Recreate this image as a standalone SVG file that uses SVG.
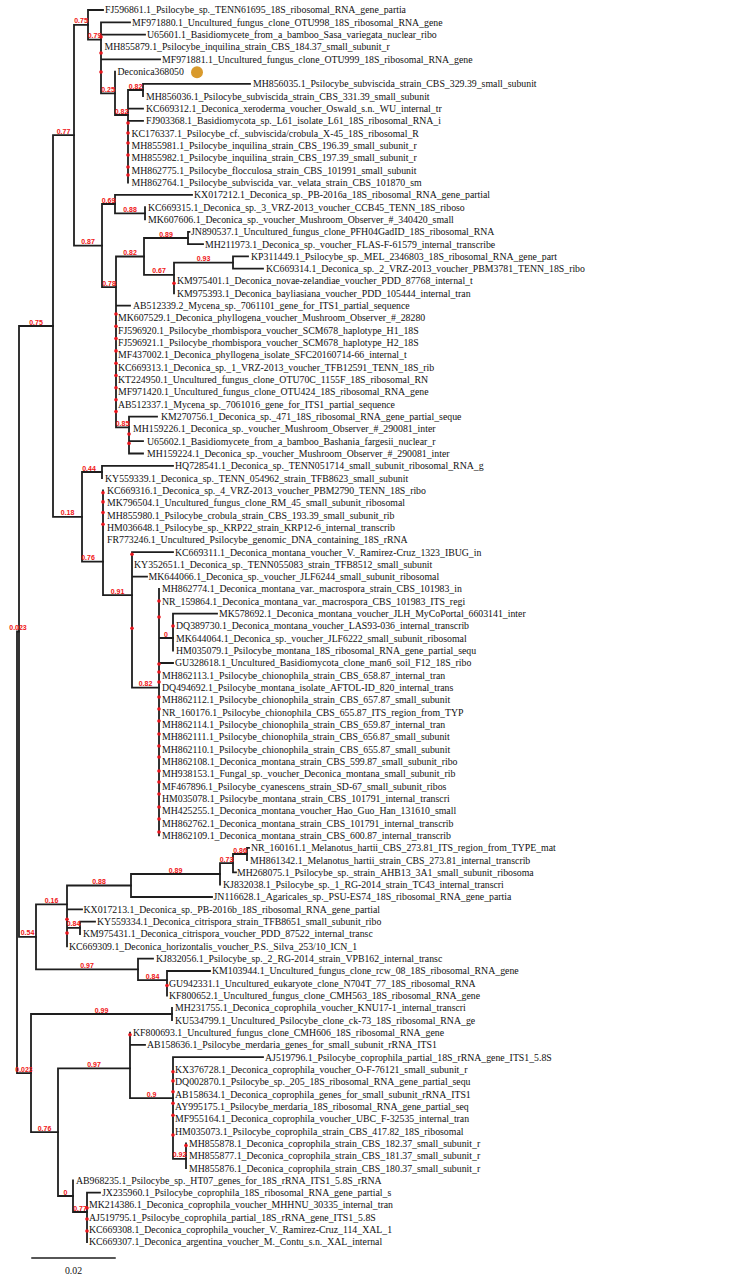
<svg xmlns="http://www.w3.org/2000/svg" width="732" height="1280" viewBox="0 0 732 1280">
<style>
.t{font-family:"Liberation Serif","Times New Roman",serif;font-size:9.8px;fill:#111}
.s{font-family:"Liberation Sans",Arial,sans-serif;font-weight:bold;font-size:7px;fill:#f01414;text-anchor:middle}
.e{stroke:#1e1e1e;stroke-width:1.8;fill:none;stroke-linecap:square}
.d{fill:#e8141c}
</style>
<rect width="732" height="1280" fill="#fff"/>
<g id="connectors" class="e">
<path d="M17 631.5V1073.1M17 631.5H19M17 1073.1H31"/>
<path d="M19 326V936.9M19 326H53M19 936.9H36"/>
<path d="M53 135.2V516.9M53 135.2H74M53 516.9H82"/>
<path d="M74 24.8V245.6M74 24.8H88M74 245.6H102"/>
<path d="M88 10V39.6M88 10H103M88 39.6H101"/>
<path d="M101 22.3V93.3M101 22.3H130M101 34.6H145M101 59.3H160M101 93.3H115"/>
<path d="M115 71.6V115M115 115H128"/>
<path d="M128 90V182.5M128 90H143M128 108.6H143M128 120.9H143"/>
<path d="M143 83.9V96.2M143 83.9H250"/>
<path d="M102 204V287.2M102 204H115M102 287.2H116"/>
<path d="M115 194.8V213.3M115 194.8H192M115 213.3H145"/>
<path d="M145 207.1V219.4"/>
<path d="M116 256.5V427.4M116 256.5H144M116 305.7H130M116 427.4H129"/>
<path d="M144 238V274.9M144 238H188M144 274.9H174"/>
<path d="M188 231.8V244.1M188 231.8H189.5M188 244.1H203"/>
<path d="M174 262.6V293.4M174 262.6H233"/>
<path d="M233 256.4V268.7M233 256.4H248M233 268.7H263"/>
<path d="M129 416.6V453.5M129 416.6H157M129 441.2H143M129 453.5H143"/>
<path d="M82 472V561.7M82 472H102M82 561.7H103"/>
<path d="M102 465.8V478.2M102 465.8H173"/>
<path d="M103 490.5V595.2M103 595.2H132"/>
<path d="M132 552.1V687.6M132 552.1H173M132 576.7H147M132 687.6H159"/>
<path d="M159 589V835.4M159 638H173M159 663H173"/>
<path d="M173 613.7V650.6M173 613.7H217"/>
<path d="M36 904.4V969.4M36 904.4H67M36 969.4H138"/>
<path d="M67 885.5V946.3M67 885.5H131M67 909.4H82M67 927.9H80"/>
<path d="M131 874V897M131 874H220M131 897H212"/>
<path d="M220 863.2V884.7M220 863.2H233"/>
<path d="M233 854V872.4M233 854H247M233 872.4H236"/>
<path d="M247 847.8V860.1M247 847.8H249"/>
<path d="M80 921.7V934M80 921.7H95"/>
<path d="M138 958.6V980.2M138 958.6H153M138 980.2H167"/>
<path d="M167 971V995.6M167 971H210"/>
<path d="M31 1014V1132.2M31 1014H172M31 1132.2H58"/>
<path d="M172 1007.9V1020.2"/>
<path d="M58 1068.4V1196M58 1068.4H130M58 1196H73"/>
<path d="M130 1032.6V1098.1M130 1044.9H145M130 1098.1H173"/>
<path d="M173 1057.2V1158.9M173 1057.2H263M173 1158.9H186"/>
<path d="M186 1143.4V1168.1"/>
<path d="M73 1180.4V1212M73 1212H87"/>
<path d="M87 1192.7V1242M87 1192.7H100"/>
<path d="M32 1258H115" stroke-width="1.5"/>
</g>
<g id="support">
<text class="s" x="81" y="23.3">0.75</text>
<text class="s" x="94.5" y="38.1">0.79</text>
<text class="s" x="108" y="91.8">0.25</text>
<text class="s" x="135.5" y="88.5">0.82</text>
<text class="s" x="121.5" y="113.5">0.82</text>
<text class="s" x="63.5" y="133.7">0.77</text>
<text class="s" x="108.5" y="202.5">0.69</text>
<text class="s" x="130" y="211.8">0.88</text>
<text class="s" x="88" y="244.1">0.87</text>
<text class="s" x="166" y="236.5">0.89</text>
<text class="s" x="130" y="255">0.82</text>
<text class="s" x="203.5" y="261.1">0.93</text>
<text class="s" x="159" y="273.4">0.67</text>
<text class="s" x="109" y="285.7">0.78</text>
<text class="s" x="36" y="324.5">0.75</text>
<text class="s" x="122.5" y="425.9">0.85</text>
<text class="s" x="89" y="470.5">0.44</text>
<text class="s" x="67.5" y="515.4">0.18</text>
<text class="s" x="88" y="560.2">0.76</text>
<text class="s" x="117.5" y="593.7">0.91</text>
<text class="s" x="145.5" y="686.1">0.82</text>
<text class="s" x="166" y="636.5">0</text>
<text class="s" x="18" y="630">0.023</text>
<text class="s" x="240" y="852.5">0.86</text>
<text class="s" x="226.5" y="861.7">0.73</text>
<text class="s" x="175.5" y="872.5">0.89</text>
<text class="s" x="99" y="884">0.88</text>
<text class="s" x="51.5" y="902.9">0.16</text>
<text class="s" x="73.5" y="926.4">0.84</text>
<text class="s" x="27.5" y="935.4">0.54</text>
<text class="s" x="87" y="967.9">0.97</text>
<text class="s" x="152.5" y="978.7">0.84</text>
<text class="s" x="101.5" y="1012.5">0.99</text>
<text class="s" x="24" y="1071.6">0.023</text>
<text class="s" x="94" y="1066.9">0.97</text>
<text class="s" x="151.5" y="1096.6">0.9</text>
<text class="s" x="179.5" y="1157.4">0.92</text>
<text class="s" x="44.5" y="1130.7">0.76</text>
<text class="s" x="65.5" y="1194.5">0</text>
<text class="s" x="80" y="1210.5">0.77</text>
<g class="d">
<circle cx="101" cy="37" r="1.8"/><circle cx="101" cy="53" r="1.8"/><circle cx="101" cy="72" r="1.8"/>
<circle cx="128" cy="123" r="1.8"/><circle cx="128" cy="133" r="1.8"/><circle cx="128" cy="143" r="1.8"/><circle cx="128" cy="155" r="1.8"/><circle cx="128" cy="167" r="1.8"/><circle cx="128" cy="175" r="1.8"/>
<circle cx="116" cy="314" r="1.8"/><circle cx="116" cy="326.3" r="1.8"/><circle cx="116" cy="338.6" r="1.8"/><circle cx="116" cy="350.9" r="1.8"/><circle cx="116" cy="363.2" r="1.8"/><circle cx="116" cy="375.5" r="1.8"/><circle cx="116" cy="387.7" r="1.8"/><circle cx="116" cy="399.8" r="1.8"/><circle cx="116" cy="411.6" r="1.8"/>
<circle cx="129" cy="434.1" r="1.8"/><circle cx="129" cy="443.4" r="1.8"/>
<circle cx="174" cy="283.2" r="1.8"/>
<circle cx="103" cy="492.7" r="1.8"/><circle cx="103" cy="501.9" r="1.8"/><circle cx="103" cy="512.6" r="1.8"/><circle cx="103" cy="524.2" r="1.8"/>
<circle cx="132" cy="554.3" r="1.8"/><circle cx="132" cy="628.2" r="1.8"/>
<circle cx="159" cy="601" r="1.8"/><circle cx="159" cy="617" r="1.8"/><circle cx="159" cy="664" r="1.8"/><circle cx="159" cy="672" r="1.8"/><circle cx="159" cy="682" r="1.8"/><circle cx="159" cy="697" r="1.8"/><circle cx="159" cy="709" r="1.8"/><circle cx="159" cy="721" r="1.8"/><circle cx="159" cy="734" r="1.8"/><circle cx="159" cy="746" r="1.8"/><circle cx="159" cy="757" r="1.8"/><circle cx="159" cy="771" r="1.8"/><circle cx="159" cy="782" r="1.8"/><circle cx="159" cy="794" r="1.8"/><circle cx="159" cy="807" r="1.8"/><circle cx="159" cy="819" r="1.8"/><circle cx="159" cy="832" r="1.8"/>
<circle cx="173" cy="626" r="1.8"/>
<circle cx="67" cy="919.3" r="1.8"/><circle cx="67" cy="933.1" r="1.8"/>
<circle cx="167" cy="985.5" r="1.8"/>
<circle cx="130" cy="1034.8" r="1.8"/>
<circle cx="173" cy="1071.7" r="1.8"/><circle cx="173" cy="1080.9" r="1.8"/><circle cx="173" cy="1091.7" r="1.8"/><circle cx="173" cy="1103.3" r="1.8"/><circle cx="173" cy="1115.2" r="1.8"/><circle cx="173" cy="1135" r="1.8"/>
<circle cx="186" cy="1145.6" r="1.8"/>
<circle cx="87" cy="1208" r="1.8"/><circle cx="87" cy="1219" r="1.8"/><circle cx="87" cy="1231" r="1.8"/>
</g>
</g>
<g id="leaf1"><text class="t" x="105" y="13.4">FJ596861.1_Psilocybe_sp._TENN61695_18S_ribosomal_RNA_gene_partia</text></g>
<g id="leaf2"><text class="t" x="132" y="25.7">MF971880.1_Uncultured_fungus_clone_OTU998_18S_ribosomal_RNA_gene</text></g>
<g id="leaf3"><text class="t" x="147" y="38">U65601.1_Basidiomycete_from_a_bamboo_Sasa_variegata_nuclear_ribo</text></g>
<g id="leaf4"><text class="t" x="104.5" y="50.4">MH855879.1_Psilocybe_inquilina_strain_CBS_184.37_small_subunit_r</text></g>
<g id="leaf5"><text class="t" x="162" y="62.7">MF971881.1_Uncultured_fungus_clone_OTU999_18S_ribosomal_RNA_gene</text></g>
<g id="leaf6"><text class="t" x="117.5" y="75">Deconica368050</text><circle cx="197" cy="72.3" r="6" fill="#d99a2c"/></g>
<g id="leaf7"><text class="t" x="253" y="87.3">MH856035.1_Psilocybe_subviscida_strain_CBS_329.39_small_subunit</text></g>
<g id="leaf8"><text class="t" x="146" y="99.6">MH856036.1_Psilocybe_subviscida_strain_CBS_331.39_small_subunit</text></g>
<g id="leaf9"><text class="t" x="146" y="112">KC669312.1_Deconica_xeroderma_voucher_Oswald_s.n._WU_internal_tr</text></g>
<g id="leaf10"><text class="t" x="146" y="124.3">FJ903368.1_Basidiomycota_sp._L61_isolate_L61_18S_ribosomal_RNA_i</text></g>
<g id="leaf11"><text class="t" x="131.5" y="136.6">KC176337.1_Psilocybe_cf._subviscida/crobula_X-45_18S_ribosomal_R</text></g>
<g id="leaf12"><text class="t" x="131.5" y="148.9">MH855981.1_Psilocybe_inquilina_strain_CBS_196.39_small_subunit_r</text></g>
<g id="leaf13"><text class="t" x="131.5" y="161.2">MH855982.1_Psilocybe_inquilina_strain_CBS_197.39_small_subunit_r</text></g>
<g id="leaf14"><text class="t" x="131.5" y="173.6">MH862775.1_Psilocybe_flocculosa_strain_CBS_101991_small_subunit</text></g>
<g id="leaf15"><text class="t" x="131.5" y="185.9">MH862764.1_Psilocybe_subviscida_var._velata_strain_CBS_101870_sm</text></g>
<g id="leaf16"><text class="t" x="194" y="198.2">KX017212.1_Deconica_sp._PB-2016a_18S_ribosomal_RNA_gene_partial</text></g>
<g id="leaf17"><text class="t" x="148" y="210.5">KC669315.1_Deconica_sp._3_VRZ-2013_voucher_CCB45_TENN_18S_riboso</text></g>
<g id="leaf18"><text class="t" x="148" y="222.8">MK607606.1_Deconica_sp._voucher_Mushroom_Observer_#_340420_small</text></g>
<g id="leaf19"><text class="t" x="191" y="235.2">JN890537.1_Uncultured_fungus_clone_PFH04GadID_18S_ribosomal_RNA</text></g>
<g id="leaf20"><text class="t" x="205" y="247.5">MH211973.1_Deconica_sp._voucher_FLAS-F-61579_internal_transcribe</text></g>
<g id="leaf21"><text class="t" x="251" y="259.8">KP311449.1_Psilocybe_sp._MEL_2346803_18S_ribosomal_RNA_gene_part</text></g>
<g id="leaf22"><text class="t" x="266" y="272.1">KC669314.1_Deconica_sp._2_VRZ-2013_voucher_PBM3781_TENN_18S_ribo</text></g>
<g id="leaf23"><text class="t" x="177" y="284.4">KM975401.1_Deconica_novae-zelandiae_voucher_PDD_87768_internal_t</text></g>
<g id="leaf24"><text class="t" x="177" y="296.8">KM975393.1_Deconica_bayliasiana_voucher_PDD_105444_internal_tran</text></g>
<g id="leaf25"><text class="t" x="133" y="309.1">AB512339.2_Mycena_sp._7061101_gene_for_ITS1_partial_sequence</text></g>
<g id="leaf26"><text class="t" x="118" y="321.4">MK607529.1_Deconica_phyllogena_voucher_Mushroom_Observer_#_28280</text></g>
<g id="leaf27"><text class="t" x="118" y="333.7">FJ596920.1_Psilocybe_rhombispora_voucher_SCM678_haplotype_H1_18S</text></g>
<g id="leaf28"><text class="t" x="118" y="346">FJ596921.1_Psilocybe_rhombispora_voucher_SCM678_haplotype_H2_18S</text></g>
<g id="leaf29"><text class="t" x="118" y="358.4">MF437002.1_Deconica_phyllogena_isolate_SFC20160714-66_internal_t</text></g>
<g id="leaf30"><text class="t" x="118" y="370.7">KC669313.1_Deconica_sp._1_VRZ-2013_voucher_TFB12591_TENN_18S_rib</text></g>
<g id="leaf31"><text class="t" x="118" y="383">KT224950.1_Uncultured_fungus_clone_OTU70C_1155F_18S_ribosomal_RN</text></g>
<g id="leaf32"><text class="t" x="118" y="395.3">MF971420.1_Uncultured_fungus_clone_OTU424_18S_ribosomal_RNA_gene</text></g>
<g id="leaf33"><text class="t" x="118" y="407.6">AB512337.1_Mycena_sp._7061016_gene_for_ITS1_partial_sequence</text></g>
<g id="leaf34"><text class="t" x="161" y="420">KM270756.1_Deconica_sp._471_18S_ribosomal_RNA_gene_partial_seque</text></g>
<g id="leaf35"><text class="t" x="133" y="432.3">MH159226.1_Deconica_sp._voucher_Mushroom_Observer_#_290081_inter</text></g>
<g id="leaf36"><text class="t" x="147" y="444.6">U65602.1_Basidiomycete_from_a_bamboo_Bashania_fargesii_nuclear_r</text></g>
<g id="leaf37"><text class="t" x="147" y="456.9">MH159224.1_Deconica_sp._voucher_Mushroom_Observer_#_290081_inter</text></g>
<g id="leaf38"><text class="t" x="175" y="469.2">HQ728541.1_Deconica_sp._TENN051714_small_subunit_ribosomal_RNA_g</text></g>
<g id="leaf39"><text class="t" x="105" y="481.6">KY559339.1_Deconica_sp._TENN_054962_strain_TFB8623_small_subunit</text></g>
<g id="leaf40"><text class="t" x="107" y="493.9">KC669316.1_Deconica_sp._4_VRZ-2013_voucher_PBM2790_TENN_18S_ribo</text></g>
<g id="leaf41"><text class="t" x="107" y="506.2">MK796504.1_Uncultured_fungus_clone_RM_45_small_subunit_ribosomal</text></g>
<g id="leaf42"><text class="t" x="107" y="518.5">MH855980.1_Psilocybe_crobula_strain_CBS_193.39_small_subunit_rib</text></g>
<g id="leaf43"><text class="t" x="107" y="530.8">HM036648.1_Psilocybe_sp._KRP22_strain_KRP12-6_internal_transcrib</text></g>
<g id="leaf44"><text class="t" x="107" y="543.2">FR773246.1_Uncultured_Psilocybe_genomic_DNA_containing_18S_rRNA</text></g>
<g id="leaf45"><text class="t" x="175" y="555.5">KC669311.1_Deconica_montana_voucher_V._Ramirez-Cruz_1323_IBUG_in</text></g>
<g id="leaf46"><text class="t" x="134" y="567.8">KY352651.1_Deconica_sp._TENN055083_strain_TFB8512_small_subunit</text></g>
<g id="leaf47"><text class="t" x="148.5" y="580.1">MK644066.1_Deconica_sp._voucher_JLF6244_small_subunit_ribosomal</text></g>
<g id="leaf48"><text class="t" x="162" y="592.4">MH862774.1_Deconica_montana_var._macrospora_strain_CBS_101983_in</text></g>
<g id="leaf49"><text class="t" x="162" y="604.8">NR_159864.1_Deconica_montana_var._macrospora_CBS_101983_ITS_regi</text></g>
<g id="leaf50"><text class="t" x="219" y="617.1">MK578692.1_Deconica_montana_voucher_JLH_MyCoPortal_6603141_inter</text></g>
<g id="leaf51"><text class="t" x="176" y="629.4">DQ389730.1_Deconica_montana_voucher_LAS93-036_internal_transcrib</text></g>
<g id="leaf52"><text class="t" x="176" y="641.7">MK644064.1_Deconica_sp._voucher_JLF6222_small_subunit_ribosomal</text></g>
<g id="leaf53"><text class="t" x="176" y="654">HM035079.1_Psilocybe_montana_18S_ribosomal_RNA_gene_partial_sequ</text></g>
<g id="leaf54"><text class="t" x="175" y="666.4">GU328618.1_Uncultured_Basidiomycota_clone_man6_soil_F12_18S_ribo</text></g>
<g id="leaf55"><text class="t" x="162" y="678.7">MH862113.1_Psilocybe_chionophila_strain_CBS_658.87_internal_tran</text></g>
<g id="leaf56"><text class="t" x="162" y="691">DQ494692.1_Psilocybe_montana_isolate_AFTOL-ID_820_internal_trans</text></g>
<g id="leaf57"><text class="t" x="162" y="703.3">MH862112.1_Psilocybe_chionophila_strain_CBS_657.87_small_subunit</text></g>
<g id="leaf58"><text class="t" x="162" y="715.6">NR_160176.1_Psilocybe_chionophila_CBS_655.87_ITS_region_from_TYP</text></g>
<g id="leaf59"><text class="t" x="162" y="728">MH862114.1_Psilocybe_chionophila_strain_CBS_659.87_internal_tran</text></g>
<g id="leaf60"><text class="t" x="162" y="740.3">MH862111.1_Psilocybe_chionophila_strain_CBS_656.87_small_subunit</text></g>
<g id="leaf61"><text class="t" x="162" y="752.6">MH862110.1_Psilocybe_chionophila_strain_CBS_655.87_small_subunit</text></g>
<g id="leaf62"><text class="t" x="162" y="764.9">MH862108.1_Deconica_montana_strain_CBS_599.87_small_subunit_ribo</text></g>
<g id="leaf63"><text class="t" x="162" y="777.2">MH938153.1_Fungal_sp._voucher_Deconica_montana_small_subunit_rib</text></g>
<g id="leaf64"><text class="t" x="162" y="789.6">MF467896.1_Psilocybe_cyanescens_strain_SD-67_small_subunit_ribos</text></g>
<g id="leaf65"><text class="t" x="162" y="801.9">HM035078.1_Psilocybe_montana_strain_CBS_101791_internal_transcri</text></g>
<g id="leaf66"><text class="t" x="162" y="814.2">MH425255.1_Deconica_montana_voucher_Hao_Guo_Han_131610_small</text></g>
<g id="leaf67"><text class="t" x="162" y="826.5">MH862762.1_Deconica_montana_strain_CBS_101791_internal_transcrib</text></g>
<g id="leaf68"><text class="t" x="162" y="838.8">MH862109.1_Deconica_montana_strain_CBS_600.87_internal_transcrib</text></g>
<g id="leaf69"><text class="t" x="251" y="851.2">NR_160161.1_Melanotus_hartii_CBS_273.81_ITS_region_from_TYPE_mat</text></g>
<g id="leaf70"><text class="t" x="250" y="863.5">MH861342.1_Melanotus_hartii_strain_CBS_273.81_internal_transcrib</text></g>
<g id="leaf71"><text class="t" x="237" y="875.8">MH268075.1_Psilocybe_sp._strain_AHB13_3A1_small_subunit_ribosoma</text></g>
<g id="leaf72"><text class="t" x="223" y="888.1">KJ832038.1_Psilocybe_sp._1_RG-2014_strain_TC43_internal_transcri</text></g>
<g id="leaf73"><text class="t" x="213.5" y="900.4">JN116628.1_Agaricales_sp._PSU-ES74_18S_ribosomal_RNA_gene_partia</text></g>
<g id="leaf74"><text class="t" x="83.5" y="912.8">KX017213.1_Deconica_sp._PB-2016b_18S_ribosomal_RNA_gene_partial</text></g>
<g id="leaf75"><text class="t" x="97" y="925.1">KY559334.1_Deconica_citrispora_strain_TFB8651_small_subunit_ribo</text></g>
<g id="leaf76"><text class="t" x="83" y="937.4">KM975431.1_Deconica_citrispora_voucher_PDD_87522_internal_transc</text></g>
<g id="leaf77"><text class="t" x="69" y="949.7">KC669309.1_Deconica_horizontalis_voucher_P.S._Silva_253/10_ICN_1</text></g>
<g id="leaf78"><text class="t" x="156" y="962">KJ832056.1_Psilocybe_sp._2_RG-2014_strain_VPB162_internal_transc</text></g>
<g id="leaf79"><text class="t" x="212" y="974.4">KM103944.1_Uncultured_fungus_clone_rcw_08_18S_ribosomal_RNA_gene</text></g>
<g id="leaf80"><text class="t" x="169" y="986.7">GU942331.1_Uncultured_eukaryote_clone_N704T_77_18S_ribosomal_RNA</text></g>
<g id="leaf81"><text class="t" x="169" y="999">KF800652.1_Uncultured_fungus_clone_CMH563_18S_ribosomal_RNA_gene</text></g>
<g id="leaf82"><text class="t" x="175" y="1011.3">MH231755.1_Deconica_coprophila_voucher_KNU17-1_internal_transcri</text></g>
<g id="leaf83"><text class="t" x="175" y="1023.6">KU534799.1_Uncultured_Psilocybe_clone_ck-73_18S_ribosomal_RNA_ge</text></g>
<g id="leaf84"><text class="t" x="133" y="1036">KF800693.1_Uncultured_fungus_clone_CMH606_18S_ribosomal_RNA_gene</text></g>
<g id="leaf85"><text class="t" x="147" y="1048.3">AB158636.1_Psilocybe_merdaria_genes_for_small_subunit_rRNA_ITS1</text></g>
<g id="leaf86"><text class="t" x="265" y="1060.6">AJ519796.1_Psilocybe_coprophila_partial_18S_rRNA_gene_ITS1_5.8S</text></g>
<g id="leaf87"><text class="t" x="175" y="1072.9">KX376728.1_Deconica_coprophila_voucher_O-F-76121_small_subunit_r</text></g>
<g id="leaf88"><text class="t" x="175" y="1085.2">DQ002870.1_Psilocybe_sp._205_18S_ribosomal_RNA_gene_partial_sequ</text></g>
<g id="leaf89"><text class="t" x="175" y="1097.6">AB158634.1_Deconica_coprophila_genes_for_small_subunit_rRNA_ITS1</text></g>
<g id="leaf90"><text class="t" x="175" y="1109.9">AY995175.1_Psilocybe_merdaria_18S_ribosomal_RNA_gene_partial_seq</text></g>
<g id="leaf91"><text class="t" x="175" y="1122.2">MF955164.1_Deconica_coprophila_voucher_UBC_F-32535_internal_tran</text></g>
<g id="leaf92"><text class="t" x="175" y="1134.5">HM035073.1_Psilocybe_coprophila_strain_CBS_417.82_18S_ribosomal</text></g>
<g id="leaf93"><text class="t" x="189" y="1146.8">MH855878.1_Deconica_coprophila_strain_CBS_182.37_small_subunit_r</text></g>
<g id="leaf94"><text class="t" x="189" y="1159.2">MH855877.1_Deconica_coprophila_strain_CBS_181.37_small_subunit_r</text></g>
<g id="leaf95"><text class="t" x="189" y="1171.5">MH855876.1_Deconica_coprophila_strain_CBS_180.37_small_subunit_r</text></g>
<g id="leaf96"><text class="t" x="76" y="1183.8">AB968235.1_Psilocybe_sp._HT07_genes_for_18S_rRNA_ITS1_5.8S_rRNA</text></g>
<g id="leaf97"><text class="t" x="102" y="1196.1">JX235960.1_Psilocybe_coprophila_18S_ribosomal_RNA_gene_partial_s</text></g>
<g id="leaf98"><text class="t" x="89" y="1208.4">MK214386.1_Deconica_coprophila_voucher_MHHNU_30335_internal_tran</text></g>
<g id="leaf99"><text class="t" x="89" y="1220.8">AJ519795.1_Psilocybe_coprophila_partial_18S_rRNA_gene_ITS1_5.8S</text></g>
<g id="leaf100"><text class="t" x="89" y="1233.1">KC669308.1_Deconica_coprophila_voucher_V._Ramirez-Cruz_114_XAL_1</text></g>
<g id="leaf101"><text class="t" x="89" y="1245.4">KC669307.1_Deconica_argentina_voucher_M._Contu_s.n._XAL_internal</text></g>
<g id="scalebar"><text class="t" x="73.5" y="1274" text-anchor="middle">0.02</text></g>
</svg>
